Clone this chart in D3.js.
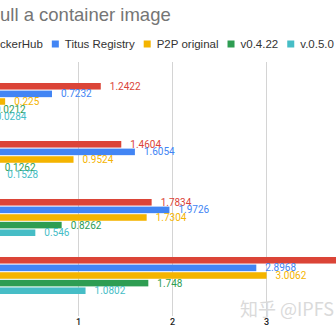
<!DOCTYPE html>
<html>
<head>
<meta charset="utf-8">
<script src="https://cdn.jsdelivr.net/npm/d3@7"></script>
<style>
  body { margin: 0; background: #fff; }
  svg { display: block; font-family: "Liberation Sans", Arial, sans-serif; }
</style>
</head>
<body>
<div id="chart"></div>
<script>
const categories = ["Image 1", "Image 2", "Image 3", "Image 4"];
const series = ["DockerHub", "Titus Registry", "P2P original", "v0.4.22", "v.0.5.0"];
const colors = ["#db4437", "#4285f4", "#f4b400", "#2e9d52", "#46bdc6"];
const dockerhub = [1.2422, 1.4604, 1.7834, 4.15];
const titus = [0.7232, 1.6054, 1.9726, 2.8968];
const p2p = [0.225, 0.9524, 1.7304, 3.0062];
const v0422 = [0.0212, 0.1262, 0.8262, 1.748];
const v050 = [0.0284, 0.1528, 0.546, 1.0802];
const tick_values = [1, 2, 3];

const values = [dockerhub, titus, p2p, v0422, v050];
const W = 336, H = 336;

const svg = d3.select("#chart").append("svg")
  .attr("width", W).attr("height", H);

// title is cropped on the left in the reference
const title_full = "Time to pull a container image";
const tmp = svg.append("text").attr("font-size", 18.5).text("Time to p");
const prefix_w = tmp.node().getComputedTextLength();
tmp.remove();
svg.append("text")
  .attr("x", -prefix_w).attr("y", 21)
  .attr("font-size", 18.5).attr("fill", "#757575")
  .text(title_full);

// legend
const tmp2 = svg.append("text").attr("font-size", 11.5).text("Do");
let lx = -tmp2.node().getComputedTextLength();
tmp2.remove();
lx = lx - 6 - 7;
const legend = svg.append("g");
series.forEach((s, i) => {
  legend.append("rect")
    .attr("x", lx).attr("y", 40.5).attr("width", 7).attr("height", 7)
    .attr("fill", colors[i]);
  const t = legend.append("text")
    .attr("x", lx + 13).attr("y", 48)
    .attr("font-size", 11.5).attr("fill", "#333")
    .text(s);
  lx += 13 + t.node().getComputedTextLength() + 9;
});

const x = d3.scaleLinear().domain([0, 4]).range([-16, 360]);
const y0 = d3.scaleBand().domain(categories).range([72.5, 304.5])
  .paddingInner(0.362).paddingOuter(0.181);
const y1 = d3.scaleBand().domain(series).range([0, y0.bandwidth()])
  .paddingInner(0.14);

const x_axis = d3.axisBottom(x)
  .tickValues(tick_values)
  .tickFormat(d3.format("d"))
  .tickSizeInner(-(316 - 62))
  .tickSizeOuter(0)
  .tickPadding(3);

const ax = svg.append("g")
  .attr("transform", "translate(0,316)")
  .call(x_axis);
ax.select(".domain").remove();
ax.selectAll(".tick line").attr("stroke", "#d4d4d4");
ax.selectAll(".tick text").attr("font-size", 9).attr("fill", "#222")
  .attr("font-family", "Roboto, sans-serif").attr("font-weight", 500);

// watermark
svg.append("text")
  .attr("x", 240).attr("y", 316)
  .attr("font-size", 18).attr("fill", "#dadada")
  .attr("font-family", "'Noto Sans CJK SC', sans-serif")
  .text("知乎 @IPFS");

const groups = svg.selectAll(".grp")
  .data(categories)
  .join("g")
  .attr("class", "grp")
  .attr("transform", d => "translate(0," + y0(d) + ")");

series.forEach((s, si) => {
  groups.append("rect")
    .attr("x", x(0))
    .attr("y", y1(s))
    .attr("height", y1.bandwidth())
    .attr("width", (d, ci) => x(values[si][ci]) - x(0))
    .attr("fill", colors[si]);
  groups.append("text")
    .attr("x", (d, ci) => x(values[si][ci]) + 9)
    .attr("y", y1(s) + y1.bandwidth() / 2)
    .attr("dy", "0.35em")
    .attr("font-size", 10)
    .attr("font-family", "Roboto, sans-serif")
    .attr("fill", colors[si])
    .text((d, ci) => values[si][ci]);
});
</script>
</body>
</html>
